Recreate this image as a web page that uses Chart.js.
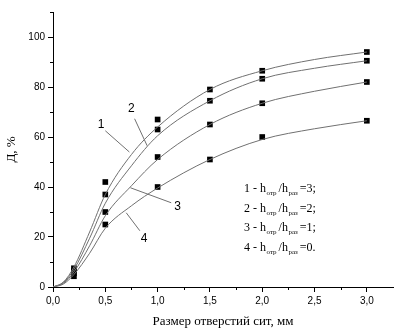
<!DOCTYPE html>
<html lang="ru">
<head>
    <meta charset="UTF-8">
    <title>Д, % — размер отверстий сит</title>
    <script src="https://cdn.jsdelivr.net/npm/chart.js"></script>
    <style>
        html, body { margin: 0; padding: 0; background: #ffffff; }
        #box { width: 403px; height: 333px; }
    </style>
</head>
<body>
    <div id="box"><canvas id="grafico"></canvas></div>

    <script>
        // опытные точки
        const razmery = [0.2, 0.5, 1.0, 1.5, 2.0, 3.0];
        const opyt1 = [7.5, 42, 67, 79, 86.5, 94];
        const opyt2 = [6.5, 37, 63, 74.5, 83.3, 90.5];
        const opyt3 = [5.5, 30, 52, 65, 73.5, 82];
        const opyt4 = [4.3, 25, 40, 51, 60, 66.5];

        // расчётные кривые
        const krivayaX = [0, 0.1, 0.2, 0.35, 0.5, 0.75, 1.0, 1.5, 2.0, 2.5, 3.0];
        const kriv1 = [0, 2, 8, 22, 37, 53, 64, 79, 86.5, 91, 94];
        const kriv2 = [0, 1.8, 7, 19.5, 33.5, 48.5, 60.5, 74.5, 83.3, 87.5, 90.5];
        const kriv3 = [0, 1.5, 6, 16.5, 28.5, 40.5, 51, 65, 73.5, 78.3, 82];
        const kriv4 = [0, 1.2, 5, 13.5, 23.5, 32.5, 39.6, 51, 59, 63.3, 66.5];

        const xTicks = [0, 0.5, 1.0, 1.5, 2.0, 2.5, 3.0];
        const yTicks = [0, 20, 40, 60, 80, 100];

        const legenda = ['3;', '2;', '1;', '0.'];

        const toXY = (xs, ys) => xs.map((x, i) => ({ x: x, y: ys[i] }));

        const tochki = (data) => ({
            data: toXY(razmery, data),
            showLine: false,
            pointStyle: 'rect',
            pointRadius: 4,
            backgroundColor: '#000000',
            borderColor: '#000000',
            borderWidth: 0
        });
        const liniya = (data) => ({
            data: toXY(krivayaX, data),
            showLine: true,
            pointRadius: 0,
            borderColor: '#707070',
            borderWidth: 1,
            cubicInterpolationMode: 'monotone'
        });

        // подписи кривых: текст и выноска, в координатах данных
        const vynoski = [
            { t: '1', at: [0.46, 65], a: [0.50, 62.5], b: [0.73, 54] },
            { t: '2', at: [0.75, 71.5], a: [0.78, 67.3], b: [0.90, 56.5] },
            { t: '3', at: [1.19, 32], a: [0.74, 39.7], b: [1.13, 33.7] },
            { t: '4', at: [0.87, 19.2], a: [0.70, 29.7], b: [0.83, 22.5] }
        ];

        const dorisovka = {
            id: 'dorisovka',
            afterDraw(chart) {
                const c = chart.ctx;
                const sx = chart.scales.x, sy = chart.scales.y;
                c.save();
                // мелкие деления
                c.strokeStyle = '#000000';
                c.lineWidth = 1;
                c.beginPath();
                for (let v = 0.25; v < 3.25; v += 0.5) {
                    const px = Math.round(sx.getPixelForValue(v)) + 0.5;
                    c.moveTo(px, sx.top);
                    c.lineTo(px, sx.top + 3);
                }
                for (let v = 10; v <= 110; v += 20) {
                    const py = Math.round(sy.getPixelForValue(v)) + 0.5;
                    c.moveTo(sy.right, py);
                    c.lineTo(sy.right - 3, py);
                }
                c.stroke();

                // выноски
                c.strokeStyle = '#707070';
                c.fillStyle = '#000000';
                c.font = '12px "Liberation Sans", Arial, sans-serif';
                c.textAlign = 'center';
                c.textBaseline = 'middle';
                vynoski.forEach(v => {
                    c.beginPath();
                    c.moveTo(sx.getPixelForValue(v.a[0]), sy.getPixelForValue(v.a[1]));
                    c.lineTo(sx.getPixelForValue(v.b[0]), sy.getPixelForValue(v.b[1]));
                    c.stroke();
                    c.fillText(v.t, sx.getPixelForValue(v.at[0]), sy.getPixelForValue(v.at[1]));
                });

                // легенда
                const bol = '12px "Liberation Serif", "Times New Roman", serif';
                const mal = '7px "Liberation Serif", "Times New Roman", serif';
                c.textAlign = 'left';
                c.textBaseline = 'alphabetic';
                legenda.forEach((zn, i) => {
                    let x = 244;
                    const y = 192 + i * 19.7;
                    const kuski = [
                        [bol, (i + 1) + ' - h', 0],
                        [mal, 'отр', 3],
                        [bol, '/h', 0],
                        [mal, 'раз', 3],
                        [bol, '=' + zn, 0]
                    ];
                    kuski.forEach(k => {
                        c.font = k[0];
                        c.fillText(k[1], x, y + k[2]);
                        x += c.measureText(k[1]).width + (k[0] === mal ? 2 : 0.5);
                    });
                });
                c.restore();
            }
        };

        const ctx = document.getElementById('grafico').getContext('2d');
        const grafico = new Chart(ctx, {
            type: 'scatter',
            data: {
                datasets: [
                    liniya(kriv1), liniya(kriv2), liniya(kriv3), liniya(kriv4),
                    tochki(opyt1), tochki(opyt2), tochki(opyt3), tochki(opyt4)
                ]
            },
            options: {
                responsive: true,
                maintainAspectRatio: false,
                animation: false,
                layout: { padding: { left: 0, right: 10, top: 12, bottom: 0 } },
                plugins: {
                    legend: { display: false },
                    tooltip: { enabled: false }
                },
                scales: {
                    x: {
                        type: 'linear',
                        min: 0,
                        max: 3.25,
                        afterFit: (s) => { s.height = 46; },
                        afterBuildTicks: (s) => { s.ticks = xTicks.map(v => ({ value: v })); },
                        border: { display: true, color: '#000000', width: 1 },
                        grid: { drawOnChartArea: false, drawTicks: true, tickLength: 5, tickColor: '#000000' },
                        ticks: {
                            color: '#000000',
                            padding: 3,
                            font: { family: '"Liberation Sans", Arial, sans-serif', size: 10 },
                            callback: (v) => Number(v).toFixed(1).replace('.', ',')
                        },
                        title: {
                            display: true,
                            text: 'Размер отверстий сит, мм',
                            color: '#000000',
                            padding: { top: 4, bottom: 4 },
                            font: { family: '"Liberation Serif", "Times New Roman", serif', size: 13 }
                        }
                    },
                    y: {
                        min: 0,
                        max: 110,
                        afterFit: (s) => { s.width = 53; },
                        afterBuildTicks: (s) => { s.ticks = yTicks.map(v => ({ value: v })); },
                        border: { display: true, color: '#000000', width: 1 },
                        grid: { drawOnChartArea: false, drawTicks: true, tickLength: 5, tickColor: '#000000' },
                        ticks: {
                            color: '#000000',
                            padding: 3,
                            font: { family: '"Liberation Sans", Arial, sans-serif', size: 10 }
                        },
                        title: {
                            display: true,
                            text: 'Д, %',
                            color: '#000000',
                            padding: { top: 4, bottom: 4 },
                            font: { family: '"Liberation Serif", "Times New Roman", serif', size: 13 }
                        }
                    }
                }
            },
            plugins: [dorisovka]
        });
    </script>
</body>
</html>
